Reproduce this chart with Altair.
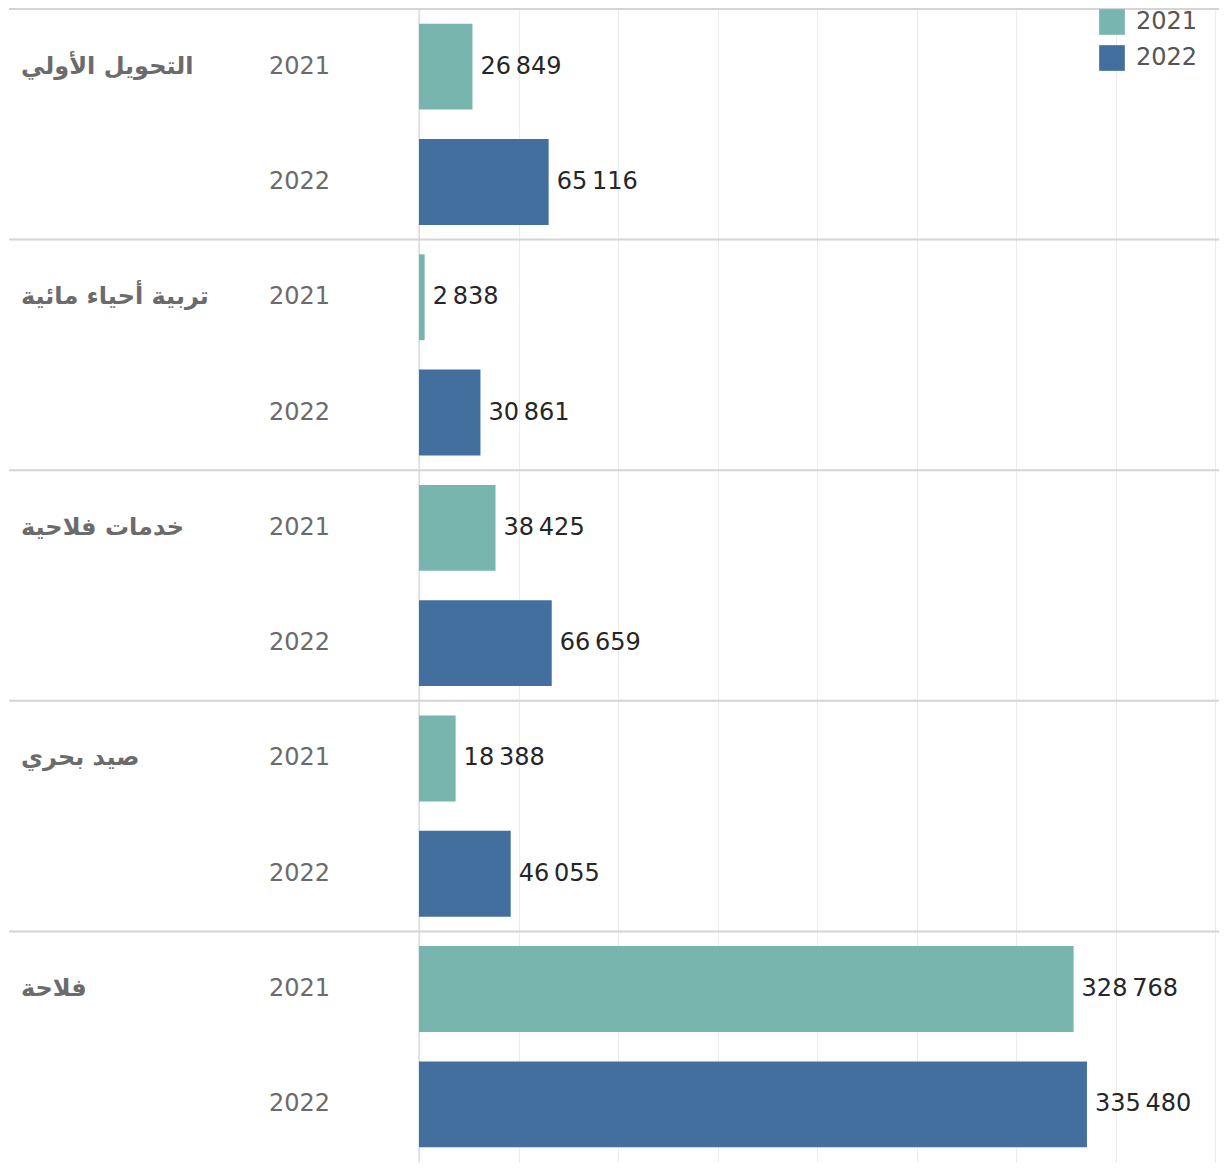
import altair as alt
import pandas as pd

categories = ["التحويل الأولي", "تربية أحياء مائية", "خدمات فلاحية", "صيد بحري", "فلاحة"]
years = ["2021", "2022"]
values_2021 = [26849, 2838, 38425, 18388, 328768]
values_2022 = [65116, 30861, 66659, 46055, 335480]
colors = ["#79b5af", "#426f9e"]

rows = []
for i, cat in enumerate(categories):
    for yr, vals in zip(years, [values_2021, values_2022]):
        v = vals[i]
        rows.append({
            "row": f"{cat}|{yr}",
            "category": cat,
            "year": yr,
            "value": v,
            "label": f"{v:,}".replace(",", "\u202f"),
        })
df = pd.DataFrame(rows)
row_order = list(df["row"])

W = 800
H = 1153
XMAX = 401800
FS = 24

y_enc = alt.Y("row:N", sort=row_order, axis=None,
              scale=alt.Scale(paddingInner=0, paddingOuter=0))
y_top = alt.Y("row:N", sort=row_order, axis=None, bandPosition=0,
              scale=alt.Scale(paddingInner=0, paddingOuter=0))
x_scale = alt.Scale(domain=[0, XMAX], nice=False, zero=True)

base = alt.Chart(df)

bars = base.mark_bar(height={"band": 0.745}).encode(
    x=alt.X("value:Q", scale=x_scale,
            axis=alt.Axis(values=list(range(0, 400001, 50000)), labels=False,
                          ticks=False, domain=False, title=None,
                          grid=True, gridColor="#ececec", gridWidth=1)),
    y=y_enc,
    color=alt.Color("year:N", scale=alt.Scale(domain=years, range=colors),
                    legend=alt.Legend(title=None, orient="none", legendX=680, legendY=0,
                                      symbolType="square", symbolSize=660,
                                      symbolStrokeWidth=0, labelFontSize=FS,
                                      labelFont="DejaVu Sans", labelColor="#555555",
                                      labelOffset=11, rowPadding=10)),
)

zero_line = alt.Chart(pd.DataFrame({"z": [0]})).mark_rule(color="#cfcfcf", strokeWidth=1).encode(
    x=alt.X("z:Q", scale=x_scale)
)

value_text = base.mark_text(align="left", baseline="middle", dx=8, fontSize=FS,
                            font="DejaVu Sans", color="#262626").encode(
    x=alt.X("value:Q", scale=x_scale), y=y_enc, text="label:N"
)

year_text = base.mark_text(align="left", baseline="middle", fontSize=FS,
                           font="DejaVu Sans", color="#6b6b6b").encode(
    x=alt.value(-150), y=y_enc, text="year:N"
)

cat_text = base.transform_filter(alt.datum.year == "2021").mark_text(
    align="left", baseline="middle", fontSize=FS, fontWeight="bold",
    font="DejaVu Sans", color="#6b6b6b").encode(
    x=alt.value(-398), y=y_enc, text="category:N"
)

sep = base.transform_filter(alt.datum.year == "2021").mark_rule(
    color="#d4d4d4", strokeWidth=2).encode(
    x=alt.value(-410), x2=alt.value(W), y=y_top
)

chart = alt.layer(zero_line, bars, sep, value_text, year_text, cat_text).properties(
    width=W, height=H, padding=0
).configure_view(stroke=None)

chart.save("out.html", embed_options={"renderer": "svg", "actions": False})
